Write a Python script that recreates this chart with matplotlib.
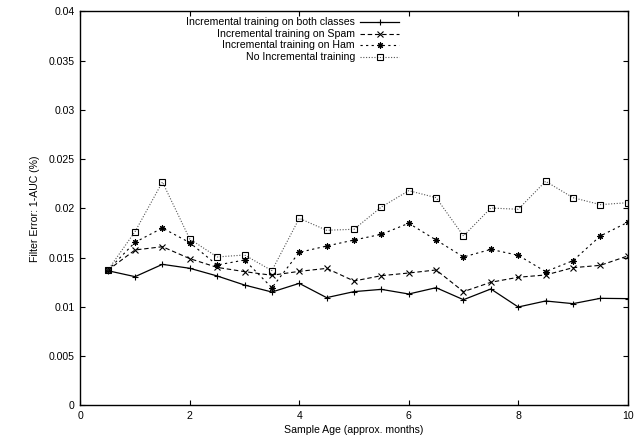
import matplotlib.pyplot as plt
from matplotlib.lines import Line2D

plt.rcParams['font.family'] = ['Liberation Sans', 'DejaVu Sans']

age = [0.5, 1, 1.5, 2, 2.5, 3, 3.5, 4, 4.5, 5,
       5.5, 6, 6.5, 7, 7.5, 8, 8.5, 9, 9.5, 10]
both = [0.01367, 0.01306, 0.01431, 0.01391, 0.01313, 0.01221, 0.0115, 0.01238, 0.01093, 0.01154,
        0.01177, 0.0113, 0.01194, 0.01072, 0.01181, 0.00998, 0.01059, 0.01032, 0.01086, 0.01083]
spam = [0.0137, 0.01577, 0.0161, 0.01489, 0.0140, 0.01357, 0.0132, 0.0136, 0.0139, 0.01262,
        0.01316, 0.01343, 0.01374, 0.01154, 0.01249, 0.013, 0.01323, 0.01397, 0.01421, 0.01516]
ham = [0.0137, 0.01655, 0.018, 0.01651, 0.01424, 0.01475, 0.01194, 0.01553, 0.01617, 0.01678,
       0.01736, 0.01848, 0.01678, 0.01506, 0.01583, 0.01523, 0.01357, 0.01468, 0.01719, 0.01858]
none = [0.0137, 0.01763, 0.02267, 0.01688, 0.01506, 0.01526, 0.01367, 0.01898, 0.01777, 0.01787,
        0.02013, 0.02179, 0.02108, 0.01719, 0.02003, 0.0199, 0.02274, 0.02108, 0.02037, 0.02057]

labels = ['Incremental training on both classes',
          'Incremental training on Spam',
          'Incremental training on Ham',
          'No Incremental training']
xticks = [0, 2, 4, 6, 8, 10]
yticks = [0, 0.005, 0.01, 0.015, 0.02, 0.025, 0.03, 0.035, 0.04]
ytick_labels = ['0', '0.005', '0.01', '0.015', '0.02', '0.025', '0.03', '0.035', '0.04']

W, H = 636, 446
fig = plt.figure(figsize=(W / 100, H / 100), dpi=100)
ax = fig.add_axes([80.3 / W, 1 - 405.3 / H, (627.7 - 80.3) / W, (405.3 - 11.3) / H])

styles = [
    dict(color='black', linestyle='-', marker='+', markersize=5, lw=0.9),
    dict(color='black', linestyle=(0, (4, 2.5)), marker='x', markersize=4, lw=0.8),
    dict(color='black', linestyle=(0, (2, 3)), marker=(8, 2, 0), markersize=4.5, lw=0.8),
    dict(color='#555555', linestyle=(0, (1, 1.5)), marker='s', markersize=4.2,
         markerfacecolor='none', markeredgecolor='black', lw=0.8),
]
series = [both, spam, ham, none]

for s, st in zip(series, styles):
    ax.plot(age, s, markeredgewidth=0.8, **st)

ax.set_xlim(0, 10)
ax.set_ylim(0, 0.04)
ax.set_xticks(xticks)
ax.set_xticklabels([str(t) for t in xticks])
ax.set_yticks(yticks)
ax.set_yticklabels(ytick_labels)
ax.tick_params(direction='in', length=3.6, width=0.8, labelsize=7.6,
               top=True, right=True, pad=4)
for sp in ax.spines.values():
    sp.set_linewidth(1.0)

ax.set_xlabel('Sample Age (approx. months)', fontsize=7.6, labelpad=3)
ax.set_ylabel('Filter Error: 1-AUC (%)', fontsize=7.6, labelpad=6)

# gnuplot style key: right aligned text, sample on the right
rows = [22.3, 33.8, 45.3, 56.8]
for lab, st, yy in zip(labels, styles, rows):
    fy = 1 - yy / H
    fig.text(355 / W, fy, lab, ha='right', va='center', fontsize=7.6)
    st2 = dict(st)
    mk = st2.pop('marker')
    ms = st2.pop('markersize')
    mfc = st2.pop('markerfacecolor', None)
    st2.pop('markeredgecolor', None)
    fig.add_artist(Line2D([360 / W, 399 / W], [fy, fy], transform=fig.transFigure, **st2))
    fig.add_artist(Line2D([380 / W], [fy], transform=fig.transFigure, linestyle='none',
                          marker=mk, markersize=ms, markeredgewidth=0.8,
                          color='black', markerfacecolor=mfc if mfc else 'black',
                          markeredgecolor='black'))

fig.savefig('out.png', dpi=100)
